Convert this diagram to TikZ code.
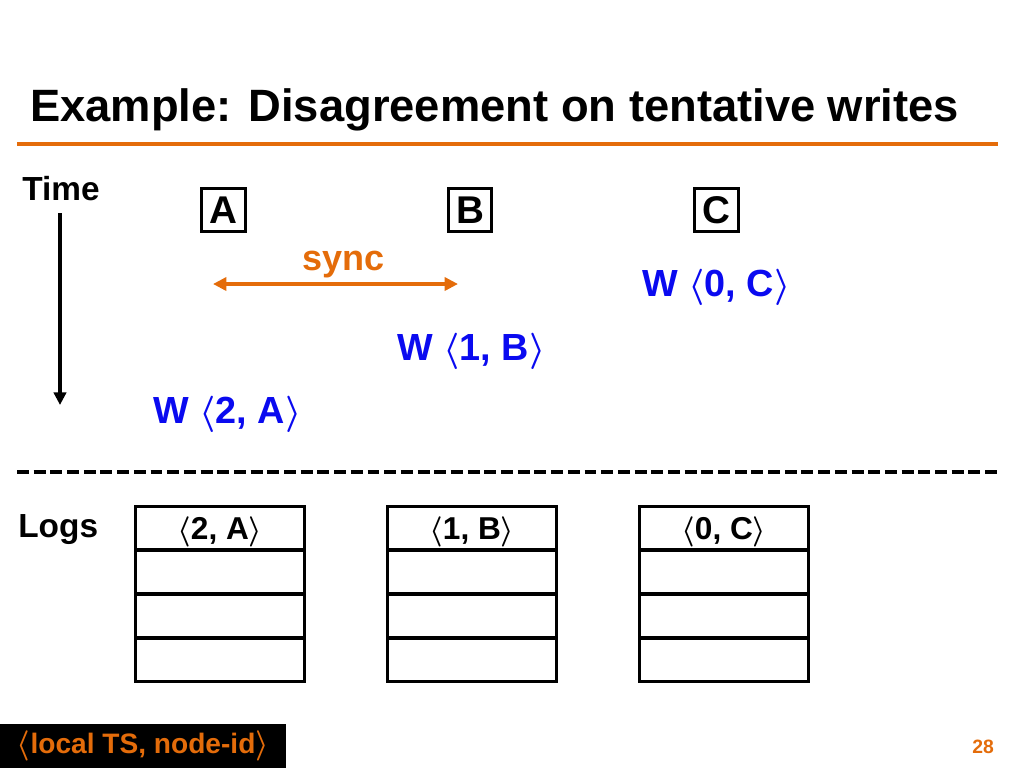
\documentclass[tikz,border=0pt]{standalone}
\usepackage{fontspec}
\setmainfont{Liberation Sans}
\usetikzlibrary{arrows.meta,positioning}
\definecolor{slideorange}{RGB}{228,108,10}
\definecolor{writeblue}{RGB}{10,10,240}
\newcommand{\fsz}[1]{\fontsize{#1}{#1}\selectfont}
\newcommand{\stamp}[1]{{\boldmath$\langle$}#1{\boldmath$\rangle$}}
\begin{document}
\begin{tikzpicture}[x=0.02cm, y=-0.02cm,
    peer/.style={draw, line width=1.7pt, minimum size=0.87cm, inner sep=0pt, font=\bfseries\fsz{22pt}},
    wrlabel/.style={anchor=base, inner sep=0pt, text=writeblue, font=\bfseries\fsz{21.5pt}},
    logrow/.style={draw, line width=2.1pt, minimum width=3.38cm, minimum height=0.875cm,
      inner sep=0pt, outer sep=0pt, text depth=0pt, font=\bfseries\fsz{18pt}}]
  \useasboundingbox (0,0) rectangle (1024,768);
  % title
  \node[anchor=base west, inner sep=0pt, font=\bfseries\fsz{25.8pt}] (title) at (30,121) {Example: Disagreement on tentative writes};
  \draw[slideorange, line width=1.9pt] (17,144) -- (998,144);
  % time axis
  \node[anchor=base west, inner sep=0pt, font=\bfseries\fsz{19pt}] (time) at (22,200) {Time};
  \coordinate (tstart) at (60,213);
  \coordinate (tend) at (60,405);
  \draw[line width=2pt, -{Triangle[length=7.2pt, width=7pt]}] (tstart) -- (tend);
  % peers
  \node[peer] (A) at (223.5,210) {A};
  \node[peer] (B) at (470,210) {B};
  \node[peer] (C) at (716.5,210) {C};
  % sync between A and B
  \coordinate (syncA) at (213,284);
  \coordinate (syncB) at (458,284);
  \draw[slideorange, line width=2pt, {Triangle[length=7.6pt, width=7.4pt]}-{Triangle[length=7.6pt, width=7.4pt]}] (syncA) -- (syncB);
  \node[anchor=base, inner sep=0pt, text=slideorange, font=\bfseries\fsz{20.5pt}] (sync) at (343.5,270) {sync};
  % tentative writes
  \node[wrlabel] (wC) at (716.5,296) {W \stamp{0, C}};
  \node[wrlabel] (wB) at (471.5,360) {W \stamp{1, B}};
  \node[wrlabel] (wA) at (227.5,423) {W \stamp{2, A}};
  \draw[line width=2.2pt, dash pattern=on 6.8pt off 2.7pt] (17,472) -- (998,472);
  % logs
  \node[anchor=base west, inner sep=0pt, font=\bfseries\fsz{19pt}] (logs) at (18,537) {Logs};
  \node[logrow, anchor=north west] (logA1) at (135.5,506.5) {\stamp{2, A}};
  \node[logrow, below=0pt of logA1] (logA2) {};
  \node[logrow, below=0pt of logA2] (logA3) {};
  \node[logrow, below=0pt of logA3] (logA4) {};
  \node[logrow, anchor=north west] (logB1) at (387.5,506.5) {\stamp{1, B}};
  \node[logrow, below=0pt of logB1] (logB2) {};
  \node[logrow, below=0pt of logB2] (logB3) {};
  \node[logrow, below=0pt of logB3] (logB4) {};
  \node[logrow, anchor=north west] (logC1) at (639.5,506.5) {\stamp{0, C}};
  \node[logrow, below=0pt of logC1] (logC2) {};
  \node[logrow, below=0pt of logC2] (logC3) {};
  \node[logrow, below=0pt of logC3] (logC4) {};
  % footer
  \node[fill=black, text=slideorange, anchor=north west, minimum width=5.72cm, minimum height=0.88cm,
    inner sep=0pt, outer sep=0pt, font=\bfseries\fsz{16pt}] (legend) at (0,724) {\stamp{local TS, node-id}};
  \node[anchor=base, inner sep=0pt, text=slideorange, font=\bfseries\fsz{11pt}] (page) at (983,753) {28};
\end{tikzpicture}
\end{document}
